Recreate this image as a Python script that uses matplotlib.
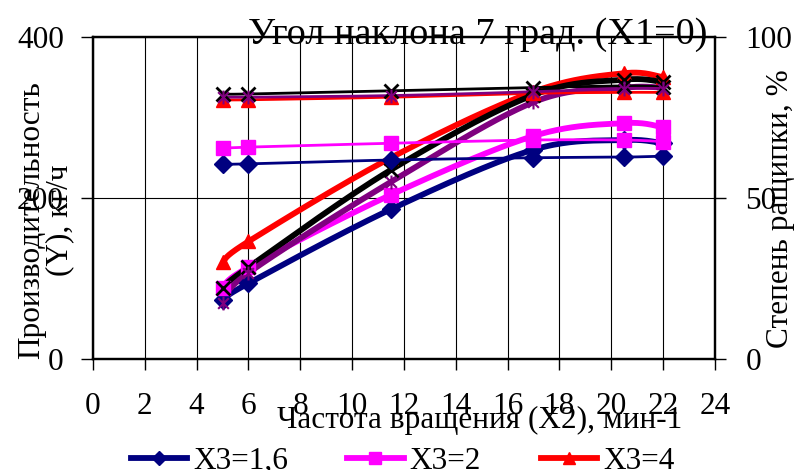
import numpy as np
import matplotlib.pyplot as plt
from matplotlib.path import Path

plt.rcParams['font.family'] = ['Liberation Serif', 'DejaVu Serif']
plt.rcParams['font.size'] = 22.5

# частота вращения X2, мин-1
speed = [5, 6, 11.5, 17, 20.5, 22]

# производительность Y, кг/ч (левая ось)
prod_navy = [73, 94, 186, 260, 272, 268]
prod_pink = [88, 114, 204, 277, 293, 288]
prod_red = [120, 146, 250, 332, 355, 350]
prod_black = [88, 114, 235, 328, 347, 344]
prod_purple = [70, 107, 220, 319, 337, 337]

# степень ращипки, % (правая ось)
split_navy = [60.5, 60.6, 61.8, 62.5, 62.7, 63.0]
split_pink = [65.5, 65.8, 67.0, 68.0, 68.0, 67.5]
split_red = [80.5, 80.5, 81.3, 82.5, 82.8, 82.8]
split_black = [82.3, 82.3, 83.3, 84.3, 84.8, 84.5]
split_purple = [81.3, 81.3, 81.8, 83.0, 84.0, 84.0]

legend_labels = ['X3=1,6', 'X3=2', 'X3=4']

xticks = list(range(0, 25, 2))
left_ticks = [0, 200, 400]
right_ticks = [0, 50, 100]


def smooth(x, y, n=40):
    # сглаженная линия как в Excel: кубические Безье через точки
    p = np.column_stack([x, y]).astype(float)
    ext = np.vstack([p[:1], p, p[-1:]])
    t = np.linspace(0, 1, n)[:, None]
    out = []
    for i in range(len(p) - 1):
        p0, p3 = ext[i + 1], ext[i + 2]
        c1 = p0 + (ext[i + 2] - ext[i]) / 6
        c2 = p3 - (ext[i + 3] - ext[i + 1]) / 6
        seg = ((1 - t) ** 3) * p0 + 3 * ((1 - t) ** 2) * t * c1 \
            + 3 * (1 - t) * t ** 2 * c2 + t ** 3 * p3
        out.append(seg if i == 0 else seg[1:])
    out = np.vstack(out)
    return out[:, 0], out[:, 1]


star = Path([(-1, -1), (1, 1), (-1, 1), (1, -1), (0, -1.3), (0, 1.3)],
            [Path.MOVETO, Path.LINETO, Path.MOVETO, Path.LINETO,
             Path.MOVETO, Path.LINETO])

styles = [
    ('#000080', 'D', 9, 1),
    ('#FF00FF', 's', 10, 1),
    ('#FF0000', '^', 10, 1),
    ('#000000', 'x', 10, 2),
    ('#800080', star, 10, 1.5),
]

fig = plt.figure(figsize=(8.05, 4.70), dpi=100)
ax = fig.add_axes([0.1155, 0.2362, 0.7725, 0.6851])
ax2 = ax.twinx()

prods = [prod_navy, prod_pink, prod_red, prod_black, prod_purple]
splits = [split_navy, split_pink, split_red, split_black, split_purple]

handles = []
for vals, (col, mk, ms, mew) in zip(prods, styles):
    sx, sy = smooth(speed, vals)
    ax.plot(sx, sy, color=col, lw=4.2, solid_capstyle='butt', zorder=3)
    ax.plot(speed, vals, ls='none', marker=mk, ms=ms, color=col,
            mec=col, mew=mew, zorder=4)
    h, = ax.plot([], [], color=col, lw=4.2, marker=mk, ms=ms * 0.8,
                 mec=col, mew=mew)
    handles.append(h)

for vals, (col, mk, ms, mew) in zip(splits, styles):
    sx, sy = smooth(speed, vals)
    ax2.plot(sx, sy, color=col, lw=2, zorder=3)
    ax2.plot(speed, vals, ls='none', marker=mk, ms=ms, color=col,
             mec=col, mew=mew, zorder=4)

ax.set_xlim(0, 24)
ax.set_ylim(0, 400)
ax2.set_ylim(0, 100)
ax.set_xticks(xticks)
ax.set_yticks(left_ticks)
ax2.set_yticks(right_ticks)

ax.grid(True, color='black', lw=0.8)
ax.set_axisbelow(True)
for a in (ax, ax2):
    for s in a.spines.values():
        s.set_linewidth(1.6)
ax.tick_params(axis='x', direction='out', length=8, width=1, pad=16)
ax.tick_params(axis='y', direction='out', length=9, width=1, pad=12)
ax2.tick_params(axis='y', direction='out', length=8, width=1, pad=14)

fig.text(0.594, 0.906, 'Угол наклона 7 град. (X1=0)', ha='center',
         va='baseline', fontsize=27.5)
fig.text(0.596, 0.089, 'Частота вращения (X2), мин-1', ha='center', va='baseline')
fig.text(0.057, 0.532, 'Производительность\n(Y), кг/ч', rotation=90,
         ha='center', va='center', multialignment='center', linespacing=0.95)
fig.text(0.969, 0.557, 'Степень ращипки, %', rotation=90, ha='center', va='center')

fig.legend(handles[:3], legend_labels, loc='center', bbox_to_anchor=(0.5, 0.018),
           ncol=3, frameon=False, handlelength=1.8, handletextpad=0.2,
           columnspacing=1.9, borderaxespad=0)

fig.savefig('out.png', dpi=100)
